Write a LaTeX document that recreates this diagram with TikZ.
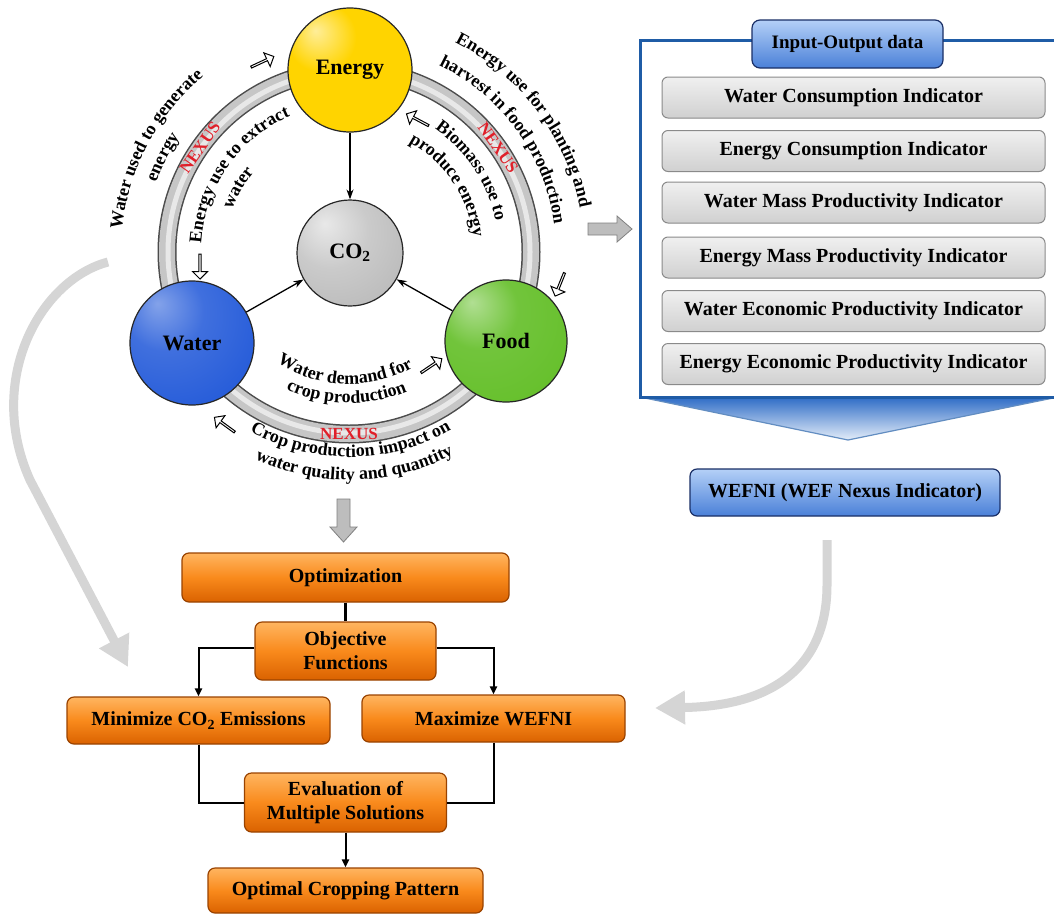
\documentclass[tikz,border=0pt]{standalone}
\usepackage{fontspec}
\setmainfont{Liberation Serif}
\usetikzlibrary{shapes.arrows,shapes.geometric,decorations.text,arrows.meta,calc,shadings}

\definecolor{frameblue}{HTML}{1F5CA6}
\definecolor{tabtop}{HTML}{B4D0F7}
\definecolor{tabbot}{HTML}{4A80D8}
\definecolor{navy}{HTML}{1A2F66}
\definecolor{orTop}{HTML}{FFB560}
\definecolor{orMid}{HTML}{F98A1C}
\definecolor{orBot}{HTML}{DA6200}
\definecolor{orDraw}{HTML}{9A4300}
\definecolor{gTop}{HTML}{F0F0F0}
\definecolor{gBot}{HTML}{D0D0D0}
\definecolor{gDraw}{HTML}{8A8A8A}
\definecolor{arrGray}{HTML}{D5D5D5}
\definecolor{blkGray}{HTML}{BDBDBD}
\definecolor{eYel}{HTML}{FFD400}
\definecolor{eRim}{HTML}{E8A000}
\definecolor{wBlue}{HTML}{1E56D8}
\definecolor{wRim}{HTML}{0E2A80}
\definecolor{fGreen}{HTML}{62BE26}
\definecolor{fRim}{HTML}{2F7A0C}
\definecolor{cGray}{HTML}{B4B4B4}
\definecolor{cRim}{HTML}{7A7A7A}
\definecolor{nexRed}{HTML}{E0202A}
\definecolor{chevTop}{HTML}{2E6CC6}
\definecolor{chevBot}{HTML}{E4EDF9}

\pgfdeclareradialshading{ballE}{\pgfpoint{-14bp}{16bp}}{color(0bp)=(white!60!eYel); color(14bp)=(eYel); color(48bp)=(eYel); color(64bp)=(eRim); color(80bp)=(eRim)}
\pgfdeclareradialshading{ballW}{\pgfpoint{-14bp}{16bp}}{color(0bp)=(white!45!wBlue); color(16bp)=(wBlue!85!white); color(44bp)=(wBlue); color(64bp)=(wRim); color(80bp)=(wRim)}
\pgfdeclareradialshading{ballF}{\pgfpoint{-14bp}{16bp}}{color(0bp)=(white!50!fGreen); color(16bp)=(fGreen!90!white); color(46bp)=(fGreen); color(64bp)=(fRim); color(80bp)=(fRim)}
\pgfdeclareradialshading{ballC}{\pgfpoint{-12bp}{14bp}}{color(0bp)=(white!70!cGray); color(18bp)=(cGray!70!white); color(46bp)=(cGray); color(64bp)=(cRim); color(80bp)=(cRim)}

\newcommand{\ctext}{\bfseries\fontsize{18}{18}\selectfont}
\newcommand{\arcTxt}[4]{\path[decorate,decoration={text along path,text align=center,text={|\ctext|#4}}] ([shift={(349,-252)}]#2:#1) arc[start angle=#2,end angle=#3,radius=#1];}

\tikzset{
  box/.style={rectangle, rounded corners=7pt, line width=1.2pt, font=\bfseries\fontsize{20}{24}\selectfont, align=center, inner sep=0pt},
  obox/.style={box, draw=orDraw, top color=orTop, bottom color=orBot, middle color=orMid},
  gbox/.style={box, rounded corners=6pt, draw=gDraw, line width=1pt, top color=gTop, bottom color=gBot, minimum width=383pt, minimum height=41pt},
  bbox/.style={box, rounded corners=8pt, draw=navy, top color=tabtop, bottom color=tabbot},
  ballnode/.style={circle, draw=black!85, line width=1.2pt, inner sep=0pt, font=\bfseries\fontsize{22}{24}\selectfont},
  hollow/.style={single arrow, draw=black, fill=white, line width=1pt, minimum height=25pt, minimum width=15pt, single arrow head extend=3pt, inner sep=0pt},
  thinarr/.style={-{Stealth[length=10pt,width=7pt]}, line width=1.3pt},
  elbow/.style={line width=2pt, -{Triangle[length=8pt,width=7pt]}},
  bigarrow/.style={line width=9pt, arrGray, -{Triangle[length=30pt,width=32pt]}},
  nexus/.style={text=nexRed, font=\bfseries\fontsize{17}{17}\selectfont, inner sep=0pt},
  blockarr/.style={fill=blkGray, draw=gray, line width=0.8pt},
}

\begin{document}
\begin{tikzpicture}[x=1pt,y=1pt]
\useasboundingbox (0,0) rectangle (1054,-916);
\fill[white] (0,0) rectangle (1054,-916);
\clip (0,0) rectangle (1054,-916);

% ---------- big curved gray arrows ----------
\coordinate (la1) at (108,-262);
\coordinate (la2) at (128,-667);
\draw[bigarrow] (la1) .. controls (40,-280) and (-15,-380) .. (30,-480) -- (la2);
\coordinate (ra1) at (827,-540);
\coordinate (ra2) at (655,-708);
\draw[bigarrow] (ra1) -- (827,-585) .. controls (827,-665) and (775,-706) .. (ra2);

% ---------- nexus ring ----------
\coordinate (C) at (349,-252);
\draw[line width=19pt, black!70] (C) circle (182);
\draw[line width=16pt, gray!45] (C) circle (182);
\draw[line width=5pt, gray!18] (C) circle (181);

\node[nexus, rotate=55] (nx1) at ([shift={(349,-252)}]145:182) {NEXUS};
\node[nexus, rotate=-55] (nx2) at ([shift={(349,-252)}]35:182) {NEXUS};
\node[nexus] (nx3) at ([shift={(349,-252)}]270:182) {NEXUS};

% ---------- curved texts ----------
\arcTxt{228}{200}{104}{Water used to generate}
\arcTxt{205}{201}{105}{energy}
\arcTxt{148}{193}{97}{Energy use to extract}
\arcTxt{124}{198}{102}{water}
\arcTxt{235}{85}{-11}{Energy use for planting and}
\arcTxt{207}{84}{-12}{harvest in food production}
\arcTxt{150}{81.5}{-14.5}{Biomass use to}
\arcTxt{125}{82}{-14}{produce energy}
\arcTxt{132}{208}{328}{Water demand for}
\arcTxt{151}{209}{329}{crop production}
\arcTxt{205}{210.5}{330.5}{Crop production impact on}
\arcTxt{228}{211.5}{331.5}{water quality and quantity}

% ---------- hollow arrows ----------
\node[hollow, rotate=25] (ha1) at (262,-62) {};
\node[hollow, rotate=-90] (ha2) at (200,-266) {};
\node[hollow, rotate=152] (ha3) at (418,-120) {};
\node[hollow, rotate=-112] (ha4) at (560,-284) {};
\node[hollow, rotate=34] (ha5) at (431,-366) {};
\node[hollow, rotate=144] (ha6) at (225,-425) {};

% ---------- balls ----------
\node[ballnode, shading=ballE, minimum size=124pt] (energy) at (350,-70) {Energy};
\node[ballnode, shading=ballC, minimum size=106pt] (co2) at (350,-253) {CO\textsubscript{2}};
\node[ballnode, shading=ballW, minimum size=124pt] (water) at (192,-343) {Water};
\node[ballnode, shading=ballF, minimum size=122pt] (food) at (506,-341) {Food};

\draw[thinarr] (energy) -- (co2);
\draw[thinarr] (water) -- (co2);
\draw[thinarr] (food) -- (co2);

% ---------- block arrows ----------
\draw[blockarr] (588,-223) -- (617,-223) -- (617,-216) -- (632,-229) -- (617,-242) -- (617,-235) -- (588,-235) -- cycle;
\draw[blockarr] (337,-499) -- (350,-499) -- (350,-527) -- (357,-527) -- (343.5,-542) -- (330,-527) -- (337,-527) -- cycle;

% ---------- right panel ----------
\shade[top color=chevTop, bottom color=chevBot] (640,-397) -- (848,-440) -- (1058,-397) -- cycle;
\draw[frameblue!70, line width=1.2pt] (640,-397) -- (848,-440) -- (1058,-397);
\draw[frameblue, line width=3pt] (1060,-40) -- (640,-40) -- (640,-397) -- (1060,-397);

\node[bbox, minimum width=191pt, minimum height=48pt, font=\bfseries\fontsize{19}{22}\selectfont] (io) at (847.5,-44) {Input-Output data};

\node[gbox] (ind1) at (853.5,-97.5) {Water Consumption Indicator};
\node[gbox] (ind2) at (853.5,-151) {Energy Consumption Indicator};
\node[gbox] (ind3) at (853.5,-202.5) {Water Mass Productivity Indicator};
\node[gbox] (ind4) at (853.5,-257.5) {Energy Mass Productivity Indicator};
\node[gbox] (ind5) at (853.5,-311) {Water Economic Productivity Indicator};
\node[gbox] (ind6) at (853.5,-364) {Energy Economic Productivity Indicator};

\node[bbox, rounded corners=7pt, minimum width=310pt, minimum height=47pt] (wefni) at (845,-492.5) {WEFNI (WEF Nexus Indicator)};

% ---------- flowchart ----------
\node[obox, minimum width=327pt, minimum height=49pt] (opt) at (345.5,-577.5) {Optimization};
\node[obox, minimum width=181pt, minimum height=58pt] (obj) at (345.5,-651) {Objective\\Functions};
\node[obox, minimum width=263pt, minimum height=47pt] (minco) at (198.5,-720.5) {Minimize CO\textsubscript{2} Emissions};
\node[obox, minimum width=263pt, minimum height=47pt] (maxw) at (493.5,-718.5) {Maximize WEFNI};
\node[obox, minimum width=202pt, minimum height=59pt] (eval) at (345.5,-802.5) {Evaluation of\\Multiple Solutions};
\node[obox, minimum width=275pt, minimum height=45pt] (optc) at (345.5,-890.5) {Optimal Cropping Pattern};

\draw[line width=3.5pt] (opt.south) -- (obj.north);
\draw[elbow] ([yshift=3pt]obj.west) -| (minco.north);
\draw[elbow] ([yshift=3pt]obj.east) -| (maxw.north);
\draw[line width=2pt] (minco.south) |- (eval.west);
\draw[line width=2pt] (maxw.south) |- (eval.east);
\draw[elbow] (eval.south) -- (optc.north);
\end{tikzpicture}
\end{document}
